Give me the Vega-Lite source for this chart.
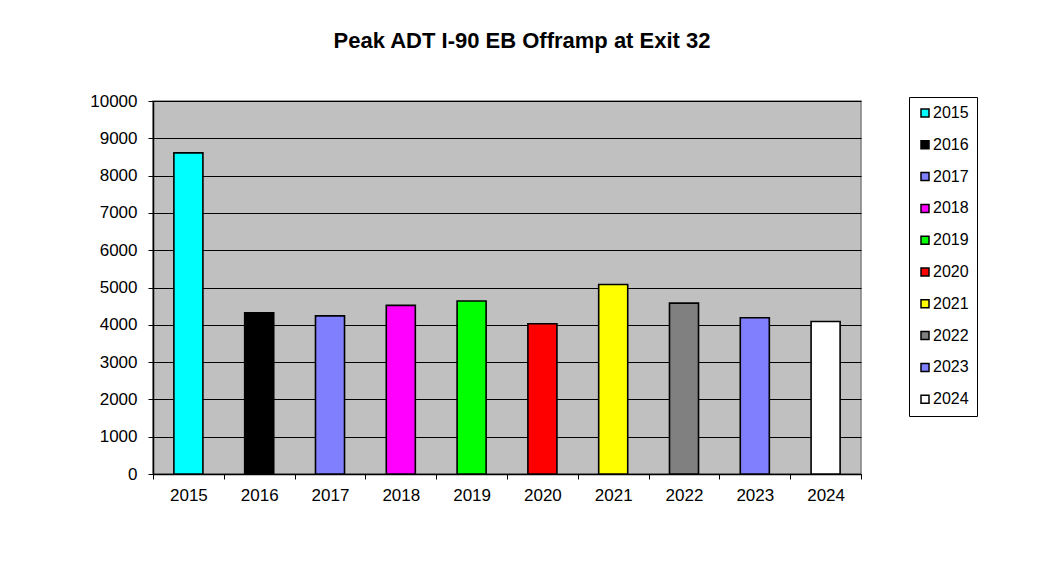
{
  "$schema": "https://vega.github.io/schema/vega-lite/v6.json",
  "width": 708,
  "height": 373,
  "autosize": {"type": "none"},
  "padding": {"left": 153, "top": 101, "right": 188, "bottom": 96},
  "background": "white",
  "title": {
    "text": "Peak ADT I-90 EB Offramp at Exit 32",
    "anchor": "middle",
    "frame": "group",
    "dx": 15,
    "offset": 39,
    "font": "Liberation Sans",
    "fontSize": 22,
    "fontWeight": "bold",
    "color": "black"
  },
  "data": {
    "values": [
      {"year": "2015", "adt": 8610},
      {"year": "2016", "adt": 4320},
      {"year": "2017", "adt": 4240},
      {"year": "2018", "adt": 4520},
      {"year": "2019", "adt": 4640},
      {"year": "2020", "adt": 4030},
      {"year": "2021", "adt": 5080},
      {"year": "2022", "adt": 4580},
      {"year": "2023", "adt": 4190},
      {"year": "2024", "adt": 4090}
    ]
  },
  "mark": {"type": "bar", "stroke": "black", "strokeWidth": 1.6, "width": {"band": 0.41}},
  "encoding": {
    "x": {
      "field": "year",
      "type": "nominal",
      "sort": null,
      "scale": {"paddingInner": 0, "paddingOuter": 0},
      "axis": {
        "title": null,
        "labelAngle": 0,
        "tickBand": "extent",
        "domainColor": "black",
        "domainWidth": 1.5,
        "tickColor": "black",
        "tickSize": 5,
        "labelFont": "Liberation Sans",
        "labelFontSize": 17,
        "labelColor": "black",
        "labelPadding": 8,
        "grid": false
      }
    },
    "y": {
      "field": "adt",
      "type": "quantitative",
      "scale": {"domain": [0, 10000], "nice": false},
      "axis": {
        "title": null,
        "values": [0, 1000, 2000, 3000, 4000, 5000, 6000, 7000, 8000, 9000, 10000],
        "format": "d",
        "grid": true,
        "gridColor": "black",
        "gridWidth": 1,
        "gridOpacity": 1,
        "domainColor": "black",
        "domainWidth": 1.5,
        "tickColor": "black",
        "tickSize": 5,
        "labelFont": "Liberation Sans",
        "labelFontSize": 17,
        "labelColor": "black",
        "labelPadding": 11
      }
    },
    "color": {
      "field": "year",
      "type": "nominal",
      "sort": null,
      "scale": {
        "domain": ["2015", "2016", "2017", "2018", "2019", "2020", "2021", "2022", "2023", "2024"],
        "range": ["#00FFFF", "#000000", "#8080FF", "#FF00FF", "#00FF00", "#FF0000", "#FFFF00", "#808080", "#8080FF", "#FFFFFF"]
      },
      "legend": {
        "title": null,
        "orient": "none",
        "legendX": 756,
        "legendY": -4,
        "strokeColor": "black",
        "fillColor": "white",
        "padding": 8,
        "rowPadding": 15.8,
        "symbolType": "square",
        "symbolSize": 64,
        "symbolStrokeColor": "black",
        "symbolStrokeWidth": 1.5,
        "symbolOpacity": 1,
        "labelFont": "Liberation Sans",
        "labelFontSize": 16,
        "labelColor": "black",
        "labelOffset": 0
      }
    }
  },
  "config": {
    "view": {"fill": "#C0C0C0", "stroke": "#808080", "strokeWidth": 1.5},
    "axis": {"gridCap": "butt"}
  }
}
